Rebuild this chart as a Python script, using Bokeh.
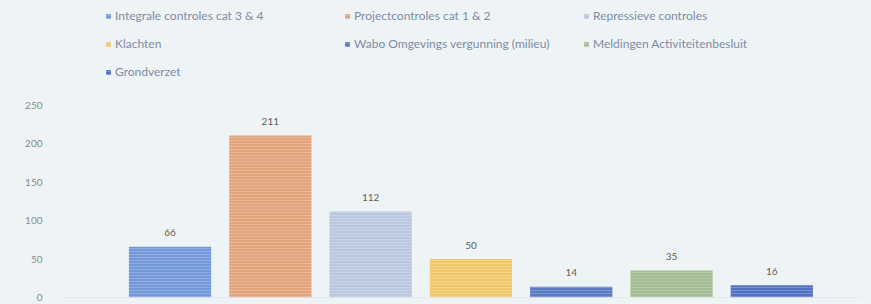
from bokeh.plotting import figure
from bokeh.models import ColumnDataSource, Range1d, FixedTicker, LabelSet, Span
from bokeh.core.properties import value
from bokeh.embed import file_html
from bokeh.resources import INLINE

# ---- data ----
categories = [
    "Integrale controles cat 3 & 4",
    "Projectcontroles cat 1 & 2",
    "Repressieve controles",
    "Klachten",
    "Wabo Omgevings vergunning (milieu)",
    "Meldingen Activiteitenbesluit",
    "Grondverzet",
]
values = [66, 211, 112, 50, 14, 35, 16]
colors = ["#7398da", "#e1a47b", "#b9c8df", "#f1c76b", "#5a7bc3", "#a2bc94", "#4f73c2"]
y_ticks = [0, 50, 100, 150, 200, 250]

BG = "#eef4f5"

src = ColumnDataSource(dict(
    x=list(range(len(categories))),
    v=values,
    lbl=[str(v) for v in values],
    cat=categories,
    col=colors,
))

W, H = 871, 304
p = figure(width=W, height=H, output_backend="svg", toolbar_location=None,
           x_axis_location=None,
           x_range=Range1d(-1.072, 6.884), y_range=Range1d(0, 386.7),
           min_border_left=62, min_border_right=11, min_border_top=0, min_border_bottom=7)
p.background_fill_color = BG
p.border_fill_color = BG
p.outline_line_color = None
p.grid.visible = False

p.vbar(x="x", top="v", width=0.82, source=src, fill_color="col", line_color=None,
       hatch_pattern="horizontal_line", hatch_color="white", hatch_alpha=0.22,
       hatch_scale=3, hatch_weight=1, legend_field="cat")

p.add_layout(Span(location=0, dimension="width", line_color="#d3dde6", line_width=1))

labels = LabelSet(x="x", y="v", text="lbl", source=src, y_offset=14,
                  text_align="center", text_baseline="middle",
                  text_font=value("Lato"), text_font_size=value("10px"),
                  text_color="#5e5e5e")
p.add_layout(labels)

ax = p.yaxis[0]
ax.ticker = FixedTicker(ticks=y_ticks)
ax.axis_line_color = None
ax.major_tick_line_color = None
ax.minor_tick_line_color = None
ax.major_label_standoff = 14
ax.major_label_text_font = "Lato"
ax.major_label_text_font_size = "10px"
ax.major_label_text_color = "#8a8a8a"

lg = p.legend[0]
lg.orientation = "horizontal"
lg.ncols = 3
lg.location = (43, 218)
lg.background_fill_alpha = 0
lg.border_line_color = None
lg.padding = 0
lg.margin = 0
lg.spacing = 13
lg.glyph_width = 6
lg.glyph_height = 6
lg.label_standoff = 4
lg.label_width = 216
lg.label_text_font = "Lato"
lg.label_text_font_size = "12px"
lg.label_text_color = "#7f8ba6"

html = file_html(p, INLINE)
html = html.replace("<body>", '<body style="background:%s">' % BG)
open("out.html", "w").write(html)
